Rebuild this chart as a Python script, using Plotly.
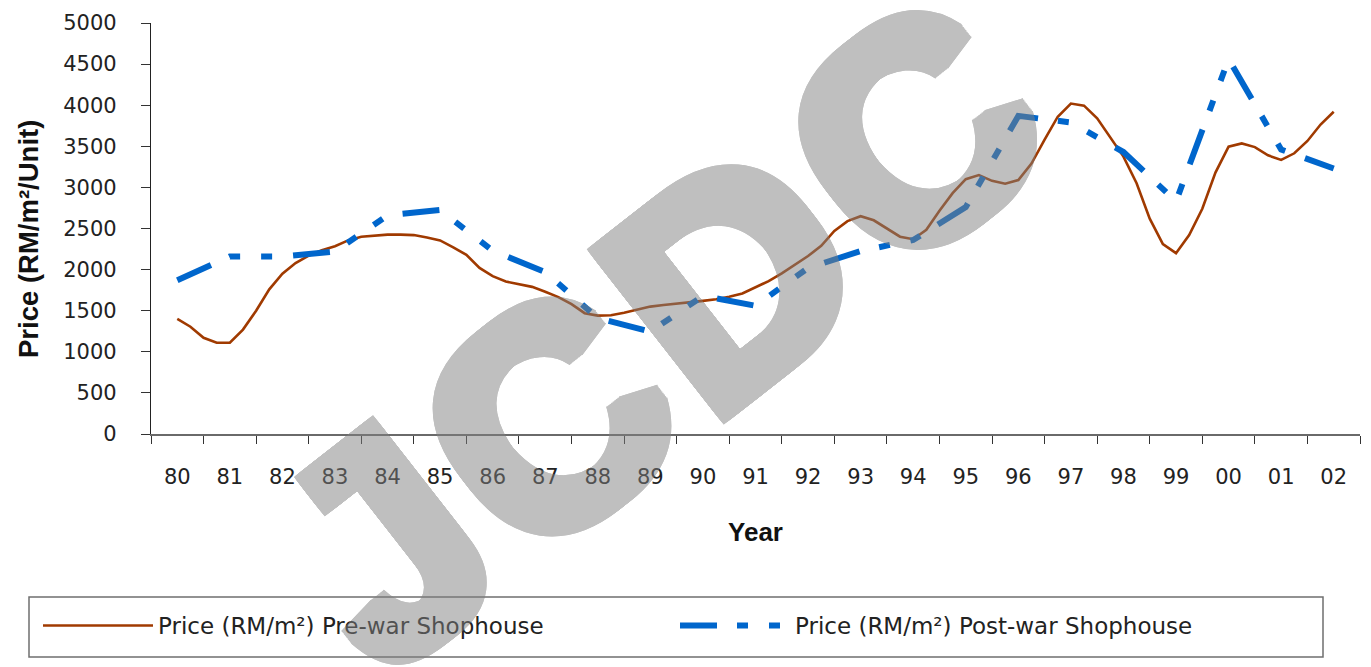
import math
import plotly.graph_objects as go

# ---------------- data ----------------
year_labels = ['80', '81', '82', '83', '84', '85', '86', '87', '88', '89', '90', '91',
               '92', '93', '94', '95', '96', '97', '98', '99', '00', '01', '02']
year_pos = list(range(len(year_labels)))

# post-war shophouse, yearly values (RM/m2)
post_war = [1870, 2160, 2160, 2220, 2660, 2725, 2230, 1970, 1410, 1245, 1680, 1560,
            2020, 2225, 2360, 2760, 3870, 3790, 3430, 2830, 4560, 3460, 3230]

# pre-war shophouse, quarterly values (RM/m2), 1980 Q1 .. 2002 Q1
pre_war = [1400, 1305, 1170, 1110, 1110, 1270, 1500, 1760, 1950, 2080, 2170, 2235,
           2285, 2355, 2400, 2415, 2425, 2425, 2420, 2390, 2355, 2270, 2180, 2020,
           1920, 1855, 1820, 1790, 1730, 1665, 1580, 1470, 1440, 1445, 1475, 1510,
           1550, 1570, 1585, 1600, 1620, 1640, 1670, 1710, 1780, 1860, 1955, 2060,
           2165, 2290, 2470, 2590, 2650, 2600, 2495, 2400, 2370, 2485, 2715, 2930,
           3100, 3150, 3080, 3045, 3090, 3290, 3580, 3860, 4020, 3995, 3840, 3610,
           3375, 3050, 2620, 2310, 2200, 2420, 2740, 3180, 3495, 3535, 3490, 3390,
           3335, 3415, 3565, 3765, 3920]
pre_war_pos = [i / 4 for i in range(len(pre_war))]

y_ticks = [0, 500, 1000, 1500, 2000, 2500, 3000, 3500, 4000, 4500, 5000]

pre_name = 'Price (RM/m²) Pre-war Shophouse'
post_name = 'Price (RM/m²) Post-war Shophouse'
y_title = 'Price (RM/m²/Unit)'
x_title = 'Year'
watermark = 'JCDC'

# ---------------- layout geometry ----------------
W, H = 1371, 667
ML, MR, MT, MB = 151, 11, 23, 233
PW, PH = W - ML - MR, H - MT - MB

def px2paper(px, py):
    return (px - ML) / PW, (H - MB - py) / PH

TICK_FONT = 'DejaVu Sans'
BOLD_FONT = 'Liberation Sans, Arial, sans-serif'

fig = go.Figure()
fig.add_trace(go.Scatter(
    x=pre_war_pos, y=pre_war, mode='lines', name=pre_name,
    line=dict(color='#A03A00', width=2.6)))
fig.add_trace(go.Scatter(
    x=year_pos, y=post_war, mode='lines', name=post_name,
    line=dict(color='#0066CC', width=6, dash='37px,20px,11px,21px,11px,21px')))

# legend frame
lx0, ly0 = px2paper(29, 597)
lx1, ly1 = px2paper(1323, 657)
fig.add_shape(type='rect', xref='paper', yref='paper', x0=lx0, x1=lx1, y0=ly0, y1=ly1,
              line=dict(color='#6f6f6f', width=1.5), fillcolor='rgba(0,0,0,0)')

# y-axis title
tx, ty = px2paper(28, 239)
fig.add_annotation(text=y_title, xref='paper', yref='paper', x=tx, y=ty,
                   xanchor='center', yanchor='middle', showarrow=False, textangle=-90,
                   font=dict(family=BOLD_FONT, size=27.5, weight=700, color='#111111'))

# watermark "JCDC" (semi-transparent, drawn above the plot)
angle = 38.0
ca, sa = math.cos(math.radians(angle)), math.sin(math.radians(angle))
d_center = (730.6, 276.6)
advance = [-438.3, -232.5, 0.0, 232.5]
r = 8.0
offs = []
steps = 8
for i in range(steps + 1):
    t = -r + 2 * r * i / steps
    for (dx, dy) in ((t, -r), (t, r), (-r, t), (r, t)):
        offs.append(f'{dx:.2f}px {dy:.2f}px 0 rgb(128,128,128)')
for i in range(5):
    t = -r / 2 + r * i / 4
    for (dx, dy) in ((t, -r / 2), (t, r / 2), (-r / 2, t), (r / 2, t)):
        offs.append(f'{dx:.2f}px {dy:.2f}px 0 rgb(128,128,128)')
shadow = ', '.join(offs)
for ch, along in zip(watermark, advance):
    cx = d_center[0] + along * ca
    cy = d_center[1] - along * sa
    xp, yp = px2paper(cx, cy)
    fig.add_annotation(text=ch, xref='paper', yref='paper', x=xp, y=yp,
                       xanchor='center', yanchor='middle', showarrow=False,
                       textangle=-angle, opacity=0.5,
                       font=dict(family=BOLD_FONT, size=300, weight=700,
                                 color='rgb(128,128,128)', shadow=shadow))

leg_x, leg_y = px2paper(38, 604)
fig.update_layout(
    width=W, height=H,
    margin=dict(l=ML, r=MR, t=MT, b=MB, pad=0, autoexpand=False),
    paper_bgcolor='white', plot_bgcolor='white',
    showlegend=True,
    legend=dict(orientation='h', x=leg_x, y=leg_y, xanchor='left', yanchor='top',
                font=dict(family=TICK_FONT, size=23, color='#222222'),
                itemwidth=110, entrywidth=512, bgcolor='rgba(0,0,0,0)',
                borderwidth=0, tracegroupgap=0),
    xaxis=dict(range=[-0.5, 22.5], tickmode='array', tickvals=year_pos,
               ticktext=year_labels, ticks='', showgrid=False, zeroline=False,
               showline=True, linecolor='#6a6a6a', linewidth=2,
               tickfont=dict(family=TICK_FONT, size=21, color='#222222'),
               ticklabelstandoff=23, automargin=False,
               minor=dict(tick0=-0.5, dtick=1, ticks='outside', ticklen=8,
                          tickwidth=1, tickcolor='#333333', showgrid=False),
               title=dict(text=x_title, standoff=35,
                          font=dict(family=BOLD_FONT, size=26, weight=700, color='#111111'))),
    yaxis=dict(range=[0, 5000], tickmode='array', tickvals=y_ticks,
               ticks='outside', ticklen=9, tickwidth=1, tickcolor='#333333',
               showgrid=False, zeroline=False, showline=True,
               linecolor='#222222', linewidth=1.2, automargin=False,
               tickfont=dict(family=TICK_FONT, size=21, color='#222222'),
               ticklabelstandoff=20),
)

fig.write_html('out.html', config={'displayModeBar': False},
               post_script="document.body.style.margin='0';document.body.style.overflow='hidden';")
